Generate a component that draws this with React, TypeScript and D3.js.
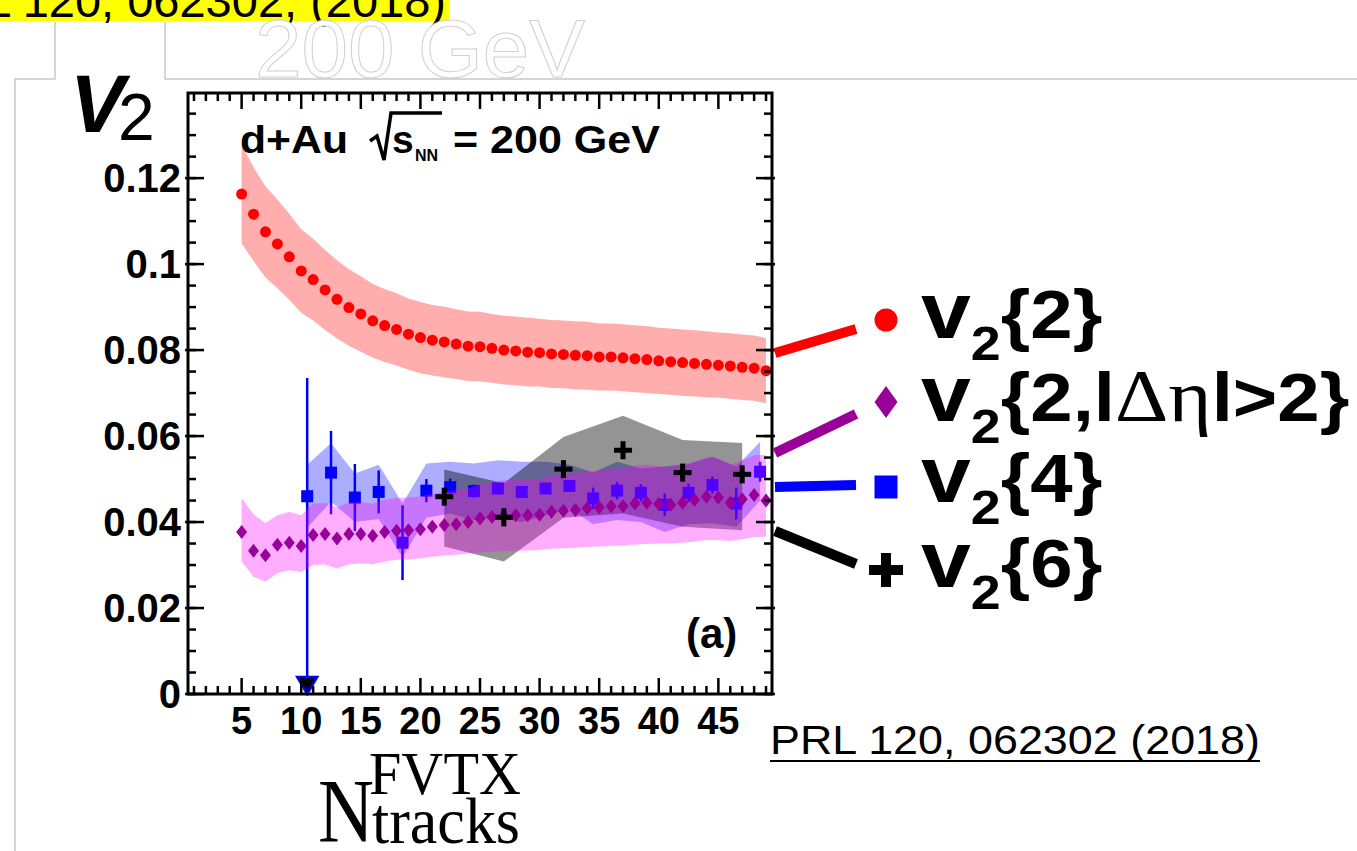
import React from 'react';
import * as d3 from 'd3';

// v2{2}: two-particle cumulant, one point per N_tracks bin
const nTracks = [5, 6, 7, 8, 9, 10, 11, 12, 13, 14, 15, 16, 17, 18, 19, 20, 21, 22, 23, 24, 25, 26, 27, 28, 29, 30, 31, 32, 33, 34, 35, 36, 37, 38, 39, 40, 41, 42, 43, 44, 45, 46, 47, 48, 49];
const v22 = [0.1163, 0.1116, 0.1075, 0.1047, 0.1017, 0.0984, 0.0964, 0.094, 0.0918, 0.0899, 0.0884, 0.0868, 0.0857, 0.0848, 0.0837, 0.0829, 0.0823, 0.0819, 0.0814, 0.0809,
  0.0808, 0.0804, 0.08, 0.0798, 0.0795, 0.0794, 0.0791, 0.079, 0.0788, 0.0787, 0.0784, 0.0784, 0.0782, 0.078, 0.0778, 0.0775, 0.0773, 0.0771, 0.0769, 0.0767, 0.0765, 0.0763, 0.076, 0.0758, 0.0752];
const v22Sys = [0.0115, 0.0109, 0.0106, 0.0103, 0.01, 0.0097, 0.0095, 0.0093, 0.0091, 0.0089, 0.0088, 0.0086, 0.0085, 0.0084, 0.0083, 0.0083, 0.0082, 0.0082, 0.0081, 0.0081,
  0.0081, 0.008, 0.008, 0.008, 0.008, 0.0079, 0.0079, 0.0079, 0.0079, 0.0079, 0.0078, 0.0078, 0.0078, 0.0078, 0.0078, 0.0077, 0.0077, 0.0077, 0.0077, 0.0077, 0.0076, 0.0076, 0.0076, 0.0076, 0.0076];

// v2{2,|deta|>2}
const v22Gap = [0.0377, 0.0333, 0.0323, 0.0347, 0.0352, 0.0344, 0.037, 0.0372, 0.0362, 0.0372, 0.0372, 0.0368, 0.0377, 0.038, 0.0381, 0.0383, 0.0389, 0.0393, 0.0395, 0.04,
  0.0408, 0.0412, 0.0414, 0.0416, 0.0416, 0.0417, 0.0424, 0.0426, 0.0428, 0.0432, 0.0434, 0.0437, 0.0437, 0.0443, 0.0445, 0.0442, 0.044, 0.0445, 0.0451, 0.0459, 0.0457, 0.0445, 0.0453, 0.0463, 0.045];
const v22GapHi = [0.0456, 0.0418, 0.0397, 0.0416, 0.0424, 0.0416, 0.0443, 0.0445, 0.0434, 0.0446, 0.0446, 0.0443, 0.0452, 0.0456, 0.0457, 0.046, 0.0466, 0.0471, 0.0474, 0.0478,
  0.0488, 0.0493, 0.0497, 0.0499, 0.0499, 0.05, 0.0509, 0.0511, 0.0513, 0.0518, 0.052, 0.0524, 0.0524, 0.0531, 0.0534, 0.053, 0.0528, 0.0534, 0.0541, 0.055, 0.0548, 0.0534, 0.0543, 0.0556, 0.0556];
const v22GapLo = [0.0308, 0.0273, 0.0261, 0.0281, 0.0288, 0.0284, 0.03, 0.0301, 0.0292, 0.0301, 0.0304, 0.0302, 0.0308, 0.0312, 0.0313, 0.0316, 0.0319, 0.0322, 0.0324, 0.0327,
  0.0329, 0.0331, 0.0332, 0.0333, 0.0334, 0.0335, 0.0338, 0.0339, 0.034, 0.0342, 0.0343, 0.0345, 0.0345, 0.0348, 0.0349, 0.035, 0.035, 0.0352, 0.0355, 0.0358, 0.0358, 0.0356, 0.036, 0.0365, 0.0366];

// v2{4}
const nV24 = [10.5, 12.5, 14.5, 16.5, 18.5, 20.5, 22.5, 24.5, 26.5, 28.5, 30.5, 32.5, 34.5, 36.5, 38.5, 40.5, 42.5, 44.5, 46.5, 48.5];
const v24 = [0.046, 0.0515, 0.0457, 0.047, 0.0352, 0.0473, 0.0481, 0.0472, 0.0478, 0.047, 0.0478, 0.0484, 0.0455, 0.0473, 0.0468, 0.044, 0.0468, 0.0486, 0.0443, 0.0517];
const v24ErrUp = [0.0275, 0.0097, 0.0078, 0.005, 0.0087, 0.0027, 0.002, 0.0015, 0.0012, 0.001, 0.001, 0.0012, 0.0025, 0.002, 0.002, 0.0026, 0.0021, 0.002, 0.0037, 0.0023];
const v24ErrDn = [0.046, 0.0097, 0.0078, 0.005, 0.0087, 0.0027, 0.002, 0.0015, 0.0012, 0.001, 0.001, 0.0012, 0.0025, 0.002, 0.002, 0.0026, 0.0021, 0.002, 0.0037, 0.0023];
const v24Hi = [0.0533, 0.0583, 0.0513, 0.0533, 0.0443, 0.0536, 0.054, 0.0536, 0.0544, 0.054, 0.054, 0.0533, 0.0515, 0.054, 0.0525, 0.0529, 0.0535, 0.0552, 0.0529, 0.0587];
const v24Lo = [0.0387, 0.0447, 0.04, 0.0407, 0.0318, 0.041, 0.042, 0.0405, 0.041, 0.04, 0.0415, 0.0432, 0.0395, 0.0405, 0.04, 0.0377, 0.0395, 0.0397, 0.0389, 0.045];

// v2{6}
const nV26 = [22, 27, 32, 37, 42, 47];
const v26 = [0.0459, 0.0411, 0.0523, 0.0567, 0.0515, 0.0511];
const v26Hi = [0.0522, 0.049, 0.0598, 0.0647, 0.0591, 0.0584];
const v26Lo = [0.0343, 0.0308, 0.041, 0.042, 0.0389, 0.0381];

const xMajorTicks = [5, 10, 15, 20, 25, 30, 35, 40, 45];
const yMajorTicks = [0, 0.02, 0.04, 0.06, 0.08, 0.1, 0.12];
const yTickLabels = ['0', '0.02', '0.04', '0.06', '0.08', '0.1', '0.12'];

const SANS = '"Liberation Sans", Arial, Helvetica, sans-serif';
const SERIF = '"Liberation Serif", "Times New Roman", serif';

const W = 1357;
const H = 851;
const frame = { left: 188, right: 772, top: 93, bottom: 694 };

const LegendLabel = ({ x, y, body }) => (
  <text transform={`translate(${x},${y}) scale(1.12,1)`} fontFamily={SANS} fontWeight="bold" fill="#000">
    <tspan fontSize={80}>v</tspan>
    <tspan fontSize={48} dy={22}>2</tspan>
    <tspan fontSize={68} dy={-22}>{body}</tspan>
  </text>
);

const App = () => {
  const x = d3.scaleLinear().domain([0.5, 49.5]).range([frame.left, frame.right]);
  const y = d3.scaleLinear().domain([0, 0.1398]).range([frame.bottom, frame.top]);

  const band = (xs, lo, hi) =>
    d3.area().x((_, i) => x(xs[i])).y0((_, i) => y(lo[i])).y1((_, i) => y(hi[i]))(xs);

  const xMinor = d3.range(1, 50).filter((v) => v % 5 !== 0);
  const yMinor = d3.range(0, 28).map((i) => i * 0.005);

  const diamond = 'M0,-7L5.5,0L0,7L-5.5,0Z';

  return (
    <svg width={W} height={H} style={{ position: 'absolute', left: 0, top: 0, background: '#fff' }} fontFamily={SANS}>
      {/* slide leftovers at the top */}
      <rect x={0} y={0} width={449} height={21} fill="#ffff00" />
      <text x={446} y={17} textAnchor="end" fontSize={47} fill="#000">PRL 120, 062302, (2018)</text>
      <path d="M55,22V79H15V851M165,22V79H1357" fill="none" stroke="#c8c8c8" strokeWidth={1.5} />
      <text x={255} y={77} fontSize={82} fill="#fff" stroke="#d0d0d0" strokeWidth={1} textLength={330} lengthAdjust="spacingAndGlyphs">200 GeV</text>

      {/* bands and points */}
      <path d={band(nTracks, v22.map((v, i) => v - v22Sys[i]), v22.map((v, i) => v + v22Sys[i]))} fill="rgba(255,0,0,0.32)" />
      {nTracks.map((n, i) => (
        <circle key={`r${n}`} cx={x(n)} cy={y(v22[i])} r={5.5} fill="#ff0000" />
      ))}

      <path d={band(nV24, v24Lo, v24Hi)} fill="rgba(0,0,255,0.32)" />
      <path d={band(nV26, v26Lo, v26Hi)} fill="rgba(0,0,0,0.42)" />

      {nV24.map((n, i) => {
        const lowEnd = v24[i] - v24ErrDn[i];
        return (
          <g key={`b${n}`}>
            <line x1={x(n)} x2={x(n)} y1={y(v24[i] + v24ErrUp[i])} y2={y(Math.max(lowEnd, 0))} stroke="#0000ff" strokeWidth={2.5} />
            <rect x={x(n) - 6} y={y(v24[i]) - 6} width={12} height={12} fill="#0000ff" />
            {lowEnd <= 0 && (
              <path d={`M${x(n) - 10},${y(0) - 17}L${x(n) + 10},${y(0) - 17}L${x(n)},${y(0)}Z`} fill="#000" stroke="#0000ff" strokeWidth={2.5} />
            )}
          </g>
        );
      })}

      <path d={band(nTracks, v22GapLo, v22GapHi)} fill="rgba(255,0,255,0.32)" />
      {nTracks.map((n, i) => (
        <path key={`p${n}`} d={diamond} transform={`translate(${x(n)},${y(v22Gap[i])})`} fill="#990099" />
      ))}

      {nV26.map((n, i) => (
        <g key={`k${n}`} transform={`translate(${x(n)},${y(v26[i])})`} fill="#000">
          <rect x={-9} y={-2.5} width={18} height={5} />
          <rect x={-2.5} y={-9} width={5} height={18} />
        </g>
      ))}

      {/* frame and ticks */}
      <rect x={frame.left} y={frame.top} width={frame.right - frame.left} height={frame.bottom - frame.top} fill="none" stroke="#000" strokeWidth={3} />
      <g stroke="#000" strokeWidth={2.5}>
        {xMinor.map((v) => (
          <g key={`xm${v}`}>
            <line x1={x(v)} x2={x(v)} y1={frame.bottom} y2={frame.bottom - 8} />
            <line x1={x(v)} x2={x(v)} y1={frame.top} y2={frame.top + 8} />
          </g>
        ))}
        {xMajorTicks.map((v) => (
          <g key={`xM${v}`}>
            <line x1={x(v)} x2={x(v)} y1={frame.bottom} y2={frame.bottom - 16} />
            <line x1={x(v)} x2={x(v)} y1={frame.top} y2={frame.top + 16} />
          </g>
        ))}
        {yMinor.map((v) => (
          <g key={`ym${v}`}>
            <line x1={frame.left} x2={frame.left + 8} y1={y(v)} y2={y(v)} />
            <line x1={frame.right} x2={frame.right - 8} y1={y(v)} y2={y(v)} />
          </g>
        ))}
        {yMajorTicks.map((v) => (
          <g key={`yM${v}`}>
            <line x1={frame.left - 3} x2={frame.left + 16} y1={y(v)} y2={y(v)} />
            <line x1={frame.right + 3} x2={frame.right - 16} y1={y(v)} y2={y(v)} />
          </g>
        ))}
      </g>

      {yMajorTicks.map((v, i) => (
        <text key={`yl${v}`} x={181} y={y(v) + 14} textAnchor="end" fontSize={40} fontWeight="bold">{yTickLabels[i]}</text>
      ))}
      {xMajorTicks.map((v) => (
        <text key={`xl${v}`} x={x(v)} y={734} textAnchor="middle" fontSize={38} fontWeight="bold">{v}</text>
      ))}

      {/* axis titles */}
      <text x={70} y={132} fontSize={82} fontWeight="bold" fontStyle="italic">V</text>
      <text x={118} y={140} fontSize={66}>2</text>

      <text x={318} y={842} fontFamily={SERIF} fontSize={90} textLength={56} lengthAdjust="spacingAndGlyphs">N</text>
      <text x={369} y={794} fontFamily={SERIF} fontSize={62} textLength={152} lengthAdjust="spacingAndGlyphs">FVTX</text>
      <text x={372} y={843} fontFamily={SERIF} fontSize={66} textLength={148} lengthAdjust="spacingAndGlyphs">tracks</text>

      {/* in-plot labels */}
      <text x={240} y={153} fontSize={39} fontWeight="bold" textLength={108} lengthAdjust="spacingAndGlyphs">d+Au</text>
      <path d="M370,141L377,136L384,160L391,113L442,113" fill="none" stroke="#000" strokeWidth={3.5} strokeLinejoin="miter" />
      <text x={392} y={153} fontSize={39} fontWeight="bold">s</text>
      <text x={415} y={161} fontSize={16} fontWeight="bold">NN</text>
      <text x={453} y={153} fontSize={39} fontWeight="bold" textLength={207} lengthAdjust="spacingAndGlyphs">= 200 GeV</text>
      <text x={686} y={648} fontSize={42} fontWeight="bold">(a)</text>

      {/* legend */}
      <line x1={775} y1={353} x2={856} y2={329} stroke="#ff0000" strokeWidth={10} />
      <line x1={775} y1={453} x2={856} y2={414} stroke="#990099" strokeWidth={10} />
      <line x1={775} y1={487} x2={856} y2={485} stroke="#0000ff" strokeWidth={10} />
      <line x1={775} y1={531} x2={856} y2={564} stroke="#000" strokeWidth={10} />

      <circle cx={886} cy={320} r={11.5} fill="#ff0000" />
      <path d="M886,386L897.5,402L886,418L874.5,402Z" fill="#990099" />
      <rect x={874.5} y={475.5} width={23} height={23} fill="#0000ff" />
      <g fill="#000">
        <rect x={869} y={565} width={34} height={10} />
        <rect x={881} y={553} width={10} height={34} />
      </g>

      <LegendLabel x={921} y={338} body="{2}" />
      <text transform="translate(921,421) scale(1.12,1)" fontFamily={SANS} fontWeight="bold">
        <tspan fontSize={80}>v</tspan>
        <tspan fontSize={48} dy={22}>2</tspan>
        <tspan fontSize={68} dy={-22}>{'{2,l'}</tspan>
        <tspan fontSize={74} fontFamily={SERIF} fontWeight="normal">Δη</tspan>
        <tspan fontSize={68}>{'l>2}'}</tspan>
      </text>
      <LegendLabel x={921} y={502} body="{4}" />
      <LegendLabel x={921} y={587} body="{6}" />

      <text x={770} y={754} fontSize={40} textLength={490} lengthAdjust="spacingAndGlyphs">PRL 120, 062302 (2018)</text>
      <line x1={770} x2={1260} y1={761} y2={761} stroke="#000" strokeWidth={2} />
    </svg>
  );
};

export default App;
